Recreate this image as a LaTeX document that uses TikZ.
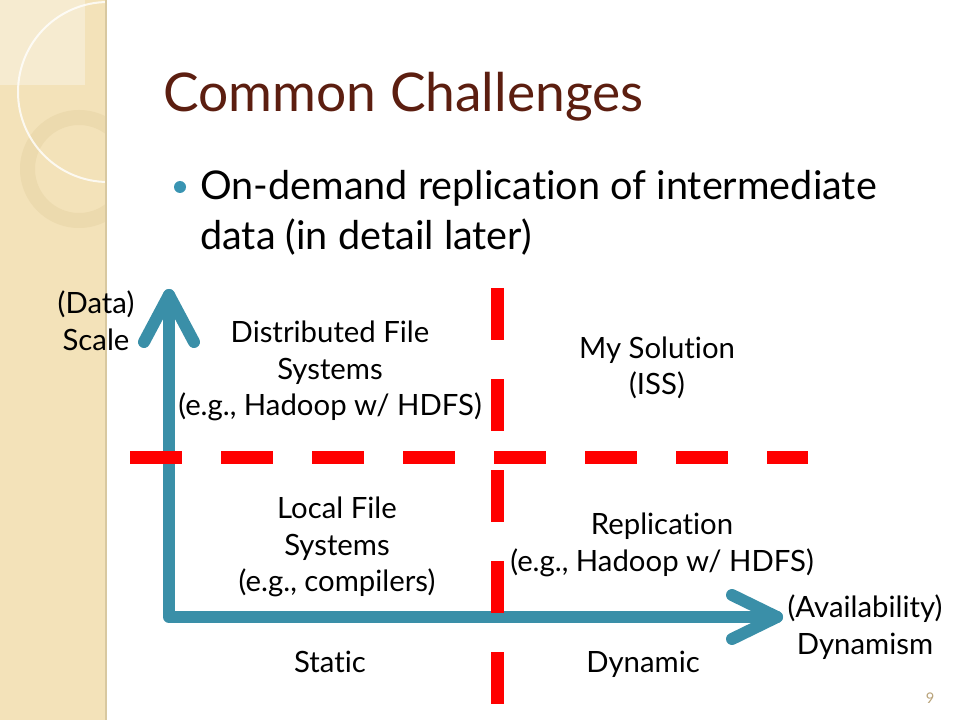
\documentclass[tikz,border=0pt]{standalone}
\usepackage{fontspec}
\setmainfont{Lato}[Ligatures=NoCommon]
\usetikzlibrary{calc}

\definecolor{axisteal}{RGB}{58,143,168}
\definecolor{bulletteal}{RGB}{57,148,178}
\definecolor{titlebrown}{RGB}{92,30,16}
\definecolor{dashred}{RGB}{255,0,0}
\definecolor{stripbeige}{RGB}{243,226,185}
\definecolor{stripfront}{RGB}{246,235,208}
\definecolor{ringtan}{RGB}{236,218,174}
\definecolor{stripedge}{RGB}{216,200,160}
\definecolor{pagenum}{RGB}{185,163,122}

\begin{document}
\begin{tikzpicture}[x=0.75pt,y=-0.75pt,
    axis/.style={line width=9pt,draw=axisteal,line cap=round,line join=round},
    divider/.style={line width=9.75pt,draw=dashred,dash pattern=on 39pt off 29.25pt},
    lbl/.style={font=\fontsize{22}{27.5}\selectfont,align=center,inner sep=0pt}]

  % Page
  \fill[white] (0,0) rectangle (960,720);
  \useasboundingbox (0,0) rectangle (960,720);

  % Side strip
  \fill[stripbeige] (0,0) rectangle (105,720);
  \fill[stripfront] (0,0) rectangle (85,85);
  \begin{scope}
    \clip (0,0) rectangle (105,720);
    \fill[ringtan,even odd rule] (79,169) circle (59) (79,169) circle (44);
    \draw[white,line width=1.5pt,opacity=0.8] (108,92) circle (90);
  \end{scope}
  \draw[stripedge,line width=1.5pt] (105.5,0) -- (105.5,720);

  % Title and bullet
  \node[anchor=base west,inner sep=0pt,text=titlebrown,font=\fontsize{40}{48}\selectfont] (title) at (163,112) {Common Challenges};
  \node[circle,fill=bulletteal,inner sep=0pt,minimum size=9pt] (bullet) at (180,187) {};
  \node[anchor=base west,inner sep=0pt,font=\fontsize{29.7}{37.5}\selectfont] (point1) at (200,200) {On-demand replication of intermediate};
  \node[anchor=base west,inner sep=0pt,font=\fontsize{29.7}{37.5}\selectfont] (point2) at (200,250) {data (in detail later)};

  % Axes
  \coordinate (origin) at (169,617);
  \coordinate (ytip) at (169,295);
  \coordinate (xtip) at (777,617);
  \draw[axis] (ytip) -- (origin) -- (xtip);
  \draw[axis] ($(ytip)+(-25,47)$) -- (ytip) -- ($(ytip)+(25,47)$);
  \draw[axis] ($(xtip)+(-45,-22)$) -- (xtip) -- ($(xtip)+(-45,22)$);

  % Dividers
  \coordinate (hleft) at (130,457);
  \coordinate (hright) at (808,457);
  \coordinate (vtop) at (497,288);
  \coordinate (vbottom) at (497,705);
  \draw[divider] (hleft) -- (hright);
  \draw[divider] (vtop) -- (vbottom);

  % Axis labels
  \node[lbl] (scale) at (96,321) {(Data)\\Scale};
  \node[lbl] (dynamism) at (865,627) {(Availability)\\Dynamism};
  \node[lbl,anchor=base] (static) at (330,672) {Static};
  \node[lbl,anchor=base] (dynamic) at (643,672) {Dynamic};

  % Quadrants
  \node[lbl] (dfs) at (330,371) {Distributed File\\Systems\\(e.g., Hadoop w/ HDFS)};
  \node[lbl] (iss) at (657,368) {My Solution\\(ISS)};
  \node[lbl] (lfs) at (337,547) {Local File\\Systems\\(e.g., compilers)};
  \node[lbl] (repl) at (662,545) {Replication\\(e.g., Hadoop w/ HDFS)};

  % Page number
  \node[anchor=base,inner sep=0pt,text=pagenum,font=\fontsize{11}{13}\selectfont] (pnum) at (930,703) {9};
\end{tikzpicture}
\end{document}
